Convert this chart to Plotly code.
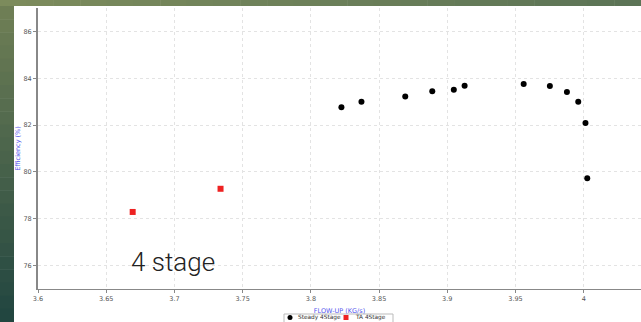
import plotly.graph_objects as go

steady_x = [3.8224, 3.8371, 3.8692, 3.8890, 3.9048, 3.9127, 3.9560, 3.9752, 3.9877, 3.9960, 4.0013, 4.0026]
steady_y = [82.76, 83.00, 83.22, 83.44, 83.51, 83.68, 83.75, 83.67, 83.41, 83.00, 82.09, 79.73]
ta_x = [3.6694, 3.7338]
ta_y = [78.29, 79.28]

series_names = ["Steady 4Stage", "TA 4Stage"]
series_colors = ["#000000", "#ee2222"]

x_ticks = [3.6, 3.65, 3.7, 3.75, 3.8, 3.85, 3.9, 3.95, 4.0]
x_tick_text = ["3.6", "3.65", "3.7", "3.75", "3.8", "3.85", "3.9", "3.95", "4"]
y_ticks = [76, 78, 80, 82, 84, 86]

W, H = 641, 322
L, R, T, B = 38, 0, 8, 33
pw, ph = W - L - R, H - T - B

def px(xp):
    return (xp - L) / pw

def py(yp):
    return 1 - (yp - T) / ph

fig = go.Figure()
fig.add_trace(go.Scatter(x=steady_x, y=steady_y, mode="markers", name=series_names[0],
                         showlegend=False,
                         marker=dict(symbol="circle", size=6, color=series_colors[0])))
fig.add_trace(go.Scatter(x=ta_x, y=ta_y, mode="markers", name=series_names[1],
                         showlegend=False,
                         marker=dict(symbol="square", size=6, color=series_colors[1])))

shapes = []
def lerp(c1, c2, t):
    return "rgb(%d,%d,%d)" % tuple(round(a + (b - a) * t) for a, b in zip(c1, c2))

n = 24
top_c1, top_c2 = (124, 139, 92), (92, 116, 86)
for i in range(n):
    t = i / (n - 1)
    shapes.append(dict(type="rect", xref="paper", yref="paper",
                       x0=px(W * i / n), x1=px(W * (i + 1) / n + 0.5),
                       y0=py(6), y1=py(0), line=dict(width=0),
                       fillcolor=lerp(top_c1, top_c2, t), layer="below"))
left_c1, left_c2 = (110, 126, 85), (34, 70, 64)
for i in range(n):
    t = i / (n - 1)
    shapes.append(dict(type="rect", xref="paper", yref="paper",
                       x0=px(0), x1=px(14),
                       y0=py(6 + (H - 6) * (i + 1) / n + 0.5), y1=py(6 + (H - 6) * i / n),
                       line=dict(width=0),
                       fillcolor=lerp(left_c1, left_c2, t), layer="below"))

# legend (box, symbols, labels)
shapes.append(dict(type="rect", xref="paper", yref="paper",
                   x0=px(284), x1=px(393), y0=py(325), y1=py(314),
                   line=dict(color="#bbbbbb", width=1), fillcolor="white", layer="above"))
shapes.append(dict(type="circle", xref="paper", yref="paper",
                   x0=px(287.5), x1=px(292.5), y0=py(320), y1=py(315),
                   line=dict(width=0), fillcolor=series_colors[0], layer="above"))
shapes.append(dict(type="rect", xref="paper", yref="paper",
                   x0=px(343.5), x1=px(348.5), y0=py(320), y1=py(315),
                   line=dict(width=0), fillcolor=series_colors[1], layer="above"))

annotations = [
    dict(text="4 stage", x=3.6666, y=76.15, xref="x", yref="y",
         xanchor="left", yanchor="middle", showarrow=False,
         font=dict(family="Roboto Light, Roboto", size=26, color="#222222")),
    dict(text=series_names[0], x=px(296), y=py(317.8), xref="paper", yref="paper",
         xanchor="left", yanchor="middle", showarrow=False,
         font=dict(family="DejaVu Sans", size=5.8, color="#333333")),
    dict(text=series_names[1], x=px(353), y=py(317.8), xref="paper", yref="paper",
         xanchor="left", yanchor="middle", showarrow=False,
         font=dict(family="DejaVu Sans", size=5.8, color="#333333")),
]

fig.update_layout(
    width=W, height=H,
    margin=dict(l=L, r=R, t=T, b=B, pad=0, autoexpand=False),
    paper_bgcolor="white", plot_bgcolor="white",
    font=dict(family="DejaVu Sans", size=7, color="#555555"),
    showlegend=False,
    shapes=shapes,
    annotations=annotations,
    xaxis=dict(range=[3.6, 4.042], tickvals=x_ticks, ticktext=x_tick_text,
               showgrid=True, gridcolor="#e3e3e3", griddash="dot", gridwidth=1,
               zeroline=False, showline=True, linecolor="#888888", linewidth=1,
               ticks="outside", ticklen=3, tickcolor="#888888",
               tickfont=dict(size=6.5, color="#555555"),
               title=dict(text="FLOW-UP (KG/s)", font=dict(size=6.5, color="#5555ee"), standoff=6)),
    yaxis=dict(range=[75, 87], tickvals=y_ticks,
               showgrid=True, gridcolor="#e3e3e3", griddash="dot", gridwidth=1,
               zeroline=False, showline=True, linecolor="#888888", linewidth=2,
               ticks="outside", ticklen=3, tickcolor="#888888",
               tickfont=dict(size=6.5, color="#555555"),
               title=dict(text="Efficiency (%)", font=dict(size=6.5, color="#5555ee"), standoff=2)),
)

fig.write_html("out.html")
